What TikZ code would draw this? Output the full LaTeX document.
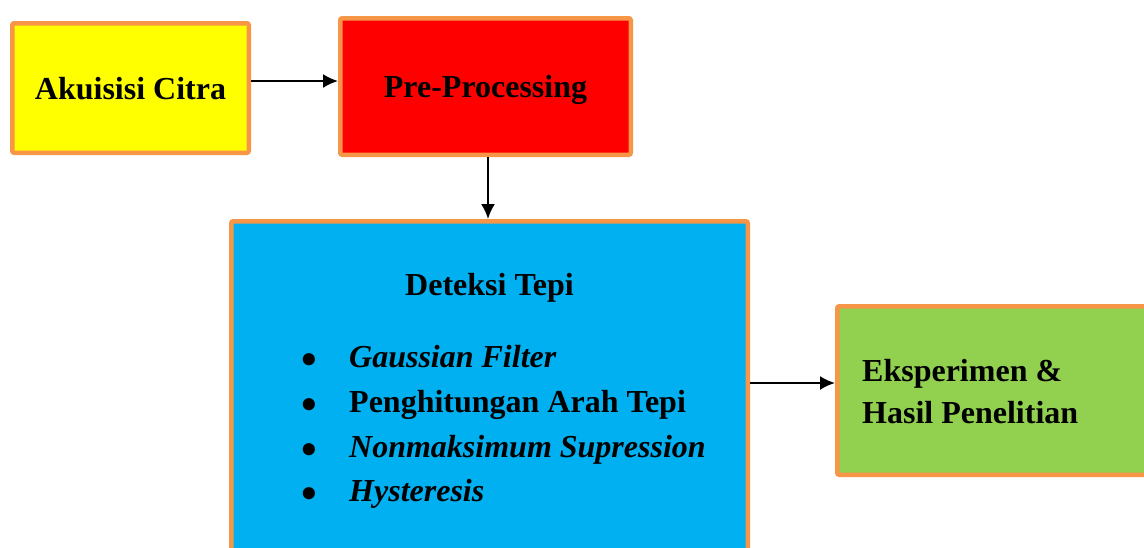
\documentclass[tikz,border=0pt]{standalone}
\usepackage{fontspec}
\setmainfont{Liberation Serif}
\usetikzlibrary{arrows.meta}
\definecolor{kuning}{HTML}{FFFF00}
\definecolor{merah}{HTML}{FF0000}
\definecolor{biru}{HTML}{00B0F0}
\definecolor{hijau}{HTML}{92D050}
\definecolor{jingga}{HTML}{F79646}
\newcommand{\butir}{\makebox[48pt][l]{\raisebox{-7.5pt}{\scalebox{1.4}{\textbullet}}}}

\begin{document}
\begin{tikzpicture}[x=1pt, y=-1pt,
  box/.style={draw=jingga, line width=4.5pt, rounded corners=2pt, text height=22pt, text depth=0pt,
    font=\fontsize{32}{42}\selectfont\bfseries},
  item/.style={anchor=base west, inner sep=0pt, font=\fontsize{32}{42}\selectfont\bfseries},
  flow/.style={-{Latex[length=15pt,width=14pt]}, line width=2pt}]
  \clip (0,0) rectangle (1144,547);
  \node (akuisisi) [box, fill=kuning, minimum width=236.5pt, minimum height=129.5pt] at (130.5,88) {Akuisisi Citra};
  \node (preproc) [box, fill=merah, minimum width=290.5pt, minimum height=136.5pt] at (485.5,86.5) {Pre-Processing};
  \node (deteksi) [box, fill=biru, minimum width=516.5pt, minimum height=400pt] at (489.5,421.25) {};
  \node (hasil) [box, fill=hijau, minimum width=400pt, minimum height=168.5pt] at (1037.25,390.5) {};
  % isi kotak deteksi tepi
  \node (judul) [item, anchor=base] at (489.5,295) {Deteksi Tepi};
  \node (gauss) [item] at (301,367) {\butir\textit{Gaussian Filter}};
  \node (arah) [item] at (301,412) {\butir Penghitungan Arah Tepi};
  \node (nms) [item] at (301,457) {\butir\textit{Nonmaksimum Supression}};
  \node (hyst) [item] at (301,501) {\butir\textit{Hysteresis}};
  \node (hasilteks) [item] at (862,381) {Eksperimen \&};
  \node (hasilteks2) [item] at (862,423) {Hasil Penelitian};
  \draw[flow] ([yshift=7pt]akuisisi.east) -- ([yshift=7pt]akuisisi.east -| preproc.west);
  \draw[flow] ([xshift=2.5pt]preproc.south) -- ([xshift=2.5pt]preproc.south |- deteksi.north);
  \draw[flow] ([yshift=7.5pt]hasil.west -| deteksi.east) -- ([yshift=7.5pt]hasil.west);
\end{tikzpicture}
\end{document}
